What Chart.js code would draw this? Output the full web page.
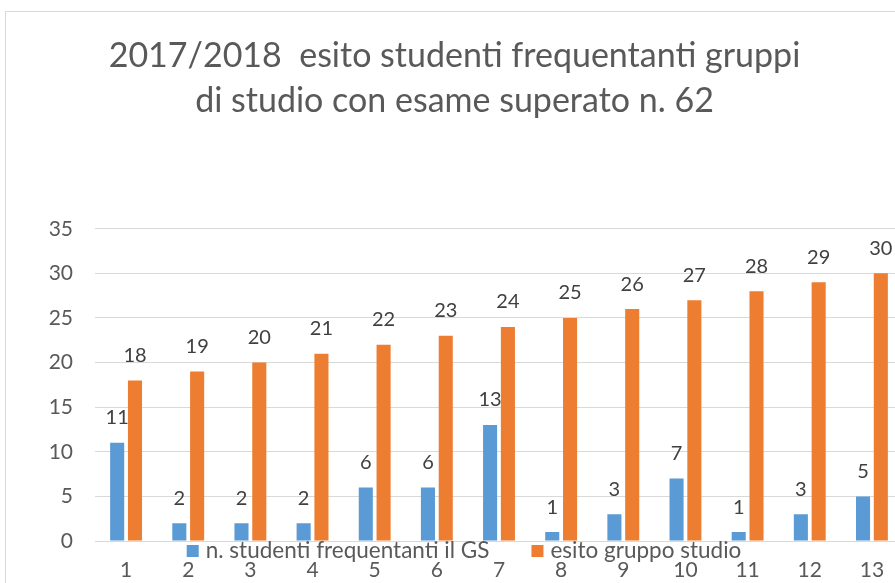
<!DOCTYPE html>
<html>
<head>
<meta charset="utf-8">
<script src="https://cdn.jsdelivr.net/npm/chart.js@4"></script>
<style>
  html, body { margin: 0; padding: 0; background: #fff; overflow: hidden; width: 895px; height: 583px; }
  #box { position: absolute; left: 5px; top: 11px; border: 1px solid #d9d9d9; width: 902px; height: 600px; }
</style>
</head>
<body>
<div id="box"><canvas id="grafico" width="902" height="600"></canvas></div>
<script>
// dati del grafico
const gruppi = ['1', '2', '3', '4', '5', '6', '7', '8', '9', '10', '11', '12', '13'];
const studentiGS = [11, 2, 2, 2, 6, 6, 13, 1, 3, 7, 1, 3, 5];
const esitoGruppo = [18, 19, 20, 21, 22, 23, 24, 25, 26, 27, 28, 29, 30];
const tickY = [0, 5, 10, 15, 20, 25, 30, 35];

const font = "Lato, 'Liberation Sans', sans-serif";
const grigio = '#595959';

// etichette sopra le barre
const etichette = {
  id: 'etichette',
  afterDatasetsDraw(chart) {
    const ctx = chart.ctx;
    ctx.save();
    ctx.font = '20px ' + font;
    ctx.fillStyle = '#404040';
    ctx.textAlign = 'center';
    ctx.textBaseline = 'middle';
    chart.data.datasets.forEach((ds, i) => {
      chart.getDatasetMeta(i).data.forEach((bar, j) => {
        ctx.fillText(ds.data[j], bar.x, bar.y - 25);
      });
    });
    ctx.restore();
  }
};

// legenda tra asse e etichette (come nell'originale)
const legenda = {
  id: 'legenda',
  afterDraw(chart) {
    const ctx = chart.ctx;
    const y = chart.chartArea.bottom + 10;
    ctx.save();
    ctx.font = '22.5px ' + font;
    ctx.textBaseline = 'middle';
    const q = 12, gap = 7, spazio = 42;
    const voci = chart.data.datasets.map(ds => ({ t: ds.label, c: ds.backgroundColor, w: ctx.measureText(ds.label).width }));
    let tot = voci.reduce((s, v) => s + q + gap + v.w, 0) + spazio * (voci.length - 1);
    let x = chart.width / 2 - tot / 2 + 7;
    voci.forEach(v => {
      ctx.fillStyle = v.c;
      ctx.fillRect(x, y - q / 2, q, q);
      ctx.fillStyle = grigio;
      ctx.fillText(v.t, x + q + gap, y);
      x += q + gap + v.w + spazio;
    });
    ctx.restore();
  }
};

new Chart(document.getElementById('grafico'), {
  type: 'bar',
  data: {
    labels: gruppi,
    datasets: [
      { label: 'n. studenti frequentanti il GS', data: studentiGS, backgroundColor: '#5B9BD5' },
      { label: 'esito gruppo studio', data: esitoGruppo, backgroundColor: '#ED7D31' }
    ]
  },
  options: {
    responsive: false,
    animation: false,
    layout: { padding: { left: 0, right: 5, top: 0, bottom: 0 } },
    datasets: { bar: { categoryPercentage: 0.573, barPercentage: 0.79 } },
    plugins: {
      legend: { display: false },
      tooltip: { enabled: false },
      title: {
        display: true,
        text: ['2017/2018  esito studenti frequentanti gruppi', 'di studio con esame superato n. 62'],
        color: grigio,
        font: { family: font, size: 34, weight: 'normal', lineHeight: 1.32 },
        padding: { top: 22, bottom: 105 }
      }
    },
    scales: {
      x: {
        grid: { display: false, drawTicks: false },
        border: { display: true, color: '#d9d9d9' },
        ticks: { color: grigio, font: { family: font, size: 21 }, padding: 17 },
        afterFit: s => { s.height = 71; }
      },
      y: {
        min: 0,
        max: 35,
        afterBuildTicks: s => { s.ticks = tickY.map(v => ({ value: v })); },
        grid: { color: '#d9d9d9', drawTicks: false },
        border: { display: false },
        ticks: { color: grigio, font: { family: font, size: 21 }, padding: 22 },
        afterFit: s => { s.width = 89; }
      }
    }
  },
  plugins: [etichette, legenda]
});
</script>
</body>
</html>
